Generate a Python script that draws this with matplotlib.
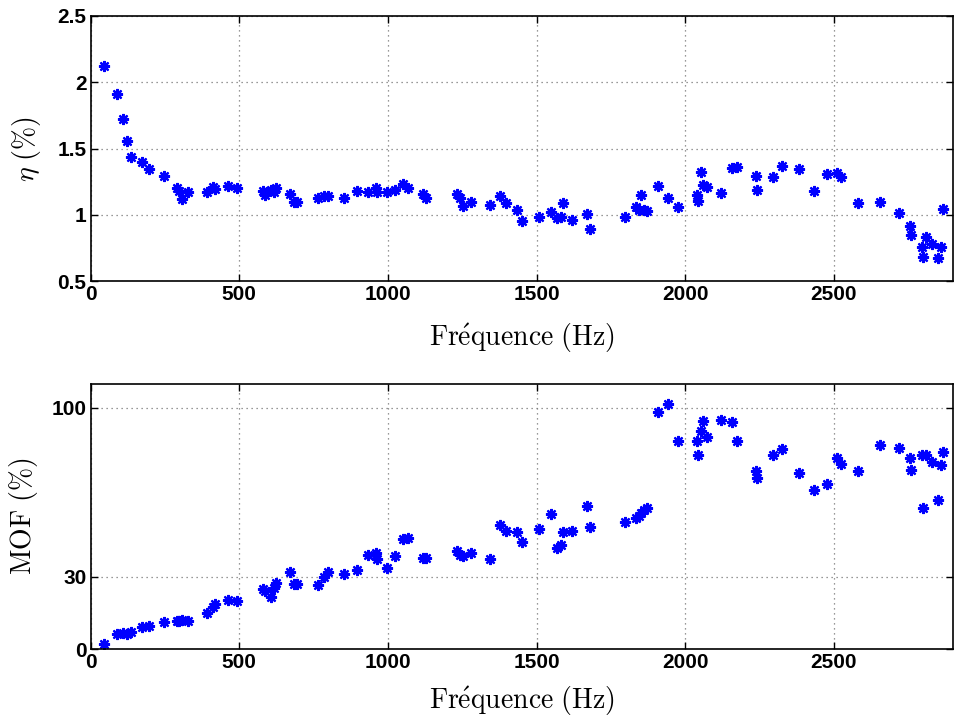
import numpy as np
import matplotlib
matplotlib.use("Agg")
import matplotlib.pyplot as plt

# measured points (frequency in Hz, efficiency eta in %, MOF in %)
freq = [45, 89, 110, 123, 136, 173, 197, 248, 290, 296, 306, 328, 391, 410, 420,
        463, 493, 580, 586, 608, 617, 625, 670, 683, 695, 765, 785, 800, 851, 897,
        933, 961, 964, 997, 1025, 1051, 1068, 1118, 1127, 1234, 1241, 1252, 1278,
        1344, 1378, 1398, 1434, 1451, 1508, 1549, 1570, 1583, 1588, 1619, 1669,
        1681, 1797, 1833, 1846, 1852, 1863, 1870, 1908, 1941, 1977, 2039, 2042,
        2052, 2061, 2074, 2121, 2158, 2174, 2239, 2240, 2296, 2327, 2384, 2432,
        2477, 2510, 2524, 2582, 2654, 2720, 2758, 2760, 2796, 2801, 2811, 2832,
        2850, 2862, 2868]
eta = [2.12, 1.91, 1.72, 1.557, 1.44, 1.40, 1.345, 1.296, 1.20, 1.18, 1.12, 1.17,
       1.175, 1.21, 1.195, 1.22, 1.20, 1.18, 1.15, 1.19, 1.17, 1.20, 1.16, 1.10,
       1.10, 1.13, 1.14, 1.14, 1.13, 1.18, 1.175, 1.20, 1.17, 1.176, 1.19, 1.23,
       1.20, 1.16, 1.13, 1.16, 1.126, 1.07, 1.095, 1.075, 1.143, 1.093, 1.04,
       0.957, 0.982, 1.025, 0.975, 0.982, 1.088, 0.962, 1.005, 0.894, 0.982,
       1.058, 1.04, 1.15, 1.038, 1.033, 1.22, 1.126, 1.063, 1.15, 1.108, 1.32,
       1.226, 1.21, 1.164, 1.355, 1.36, 1.29, 1.19, 1.287, 1.372, 1.345, 1.183,
       1.31, 1.315, 1.285, 1.088, 1.10, 1.013, 0.92, 0.85, 0.76, 0.68, 0.835,
       0.78, 0.675, 0.755, 1.045]
mof = [2.2, 6.2, 6.6, 6.2, 7.3, 9.4, 9.8, 11.2, 11.5, 11.9, 12.2, 11.9, 15.2, 17.7,
       18.7, 20.5, 19.8, 25, 24.3, 21.8, 25.3, 27.6, 32, 27.1, 27.1, 26.7, 29.9,
       32, 31.2, 32.9, 39.1, 40, 37.3, 33.6, 38.7, 45.6, 46, 37.7, 37.7, 40.8,
       39.1, 38.4, 39.8, 37.5, 51.6, 48.8, 48.4, 44.6, 49.8, 56.1, 41.9, 43.3,
       48.4, 49, 59.2, 50.6, 52.7, 54.4, 55.3, 56.4, 57.5, 58.5, 98.3, 101.4,
       86.4, 86.1, 80.6, 90.3, 94.7, 87.8, 94.9, 94.2, 86.4, 74, 71, 80.6, 82.7,
       73, 65.8, 68.5, 79.3, 76.5, 74, 84.4, 83.4, 79, 74.1, 80.6, 58.5, 80.6,
       77.4, 61.7, 76.2, 81.6]

eta_ticks = [0.5, 1, 1.5, 2, 2.5]
eta_labels = ['0.5', '1', '1.5', '2', '2.5']
mof_ticks = [0, 30, 100]
x_ticks = [0, 500, 1000, 1500, 2000, 2500]

plt.rcParams['mathtext.fontset'] = 'cm'
plt.rcParams['font.family'] = ['Liberation Sans', 'DejaVu Sans']
plt.rcParams['font.weight'] = 'bold'
plt.rcParams['xtick.labelsize'] = 15
plt.rcParams['ytick.labelsize'] = 15

fig = plt.figure(figsize=(9.6, 7.23), dpi=100)
ax1 = fig.add_axes([0.0944, 0.611, 0.898, 0.367])
ax2 = fig.add_axes([0.0944, 0.102, 0.898, 0.3675])

star = (8, 2, 0)
ax1.plot(freq, eta, linestyle='none', marker=star, markersize=8,
         markeredgewidth=1.6, color='#0000ff')
ax2.plot(freq, mof, linestyle='none', marker=star, markersize=8,
         markeredgewidth=1.6, color='#0000ff')

ax1.set_ylim(0.5, 2.5)
ax1.set_yticks(eta_ticks)
ax1.set_yticklabels(eta_labels)
ax1.set_ylabel(r'$\eta\ \mathrm{(\%)}$', fontsize=20, labelpad=10)

ax2.set_ylim(0, 110)
ax2.set_yticks(mof_ticks)
ax2.set_ylabel(r'$\mathrm{MOF\ (\%)}$', fontsize=20, labelpad=8)

xlabel = r"$\mathrm{Fr\'{e}quence\ (Hz)}$"
ax1.set_xlabel(xlabel, fontsize=20, labelpad=12)
ax2.set_xlabel(xlabel, fontsize=20, labelpad=8)

for ax in (ax1, ax2):
    ax.set_xlim(0, 2900)
    ax.set_xticks(x_ticks)
    ax.grid(True, linestyle=(0, (1, 3)), color='#777777', linewidth=0.9)
    ax.tick_params(direction='in', top=True, right=True, length=5, width=1,
                   pad=3)
    for s in ax.spines.values():
        s.set_linewidth(1.2)

plt.savefig('out.png', dpi=100)
